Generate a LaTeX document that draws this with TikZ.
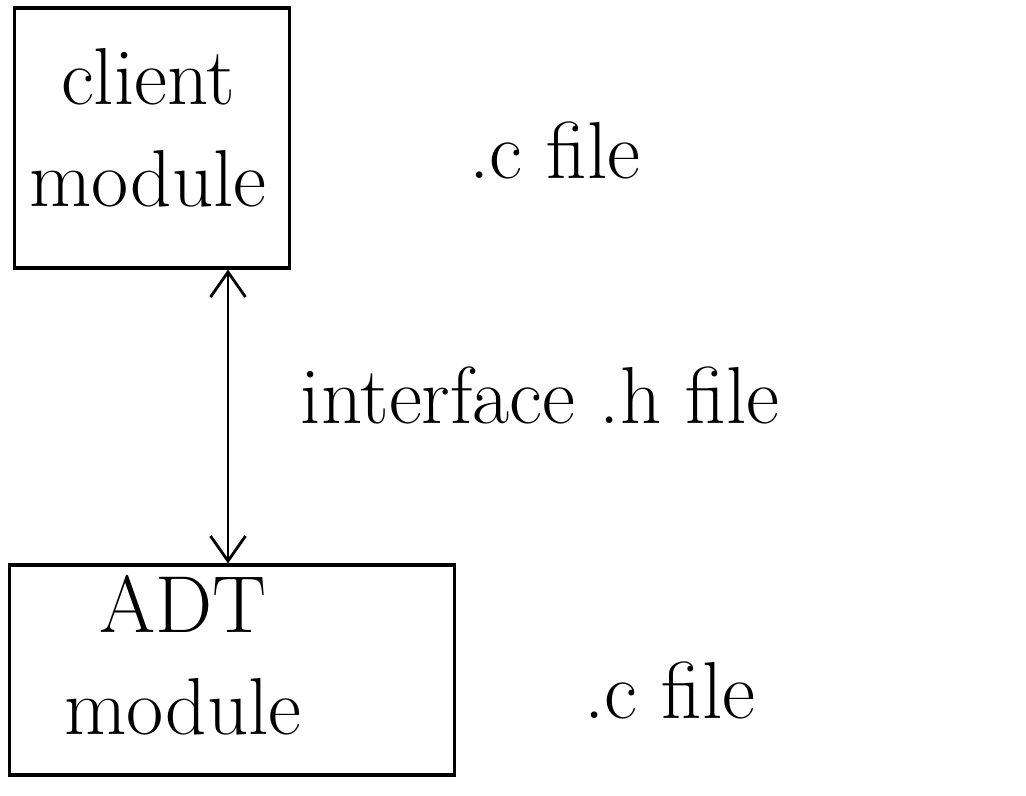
\documentclass[tikz,border=0pt]{standalone}
\usetikzlibrary{arrows.meta}
\begin{document}
\begin{tikzpicture}[x=0.02cm, y=-0.02cm,
    box/.style={rectangle, draw=black, line width=1.8pt, align=center},
    lbl/.style={font=\fontsize{46}{58}\selectfont, align=center},
    arrow/.style={{Straight Barb[length=5mm,width=7mm]}-{Straight Barb[length=5mm,width=7mm]}, line width=1.6pt}
]
\useasboundingbox (0,0) rectangle (1026,795);

% Modules
\node[box, minimum width=5.5cm, minimum height=5.2cm] (client) at (152,138) {};
\node[lbl] (clienttxt) at (148,128) {client\\module};
\node[box, minimum width=8.9cm, minimum height=4.2cm] (adt) at (232,670) {};
\node[lbl] (adttxt) at (183,655) {ADT\\module};

% File labels
\node[lbl] (cfile) at (555,150) {.c file};
\node[lbl] (hfile) at (540,395) {interface .h file};
\node[lbl] (cfileb) at (670,690) {.c file};

% Arrow
\coordinate (ax) at (228,0);
\draw[arrow] (client.south -| ax) -- (adt.north -| ax);

\end{tikzpicture}
\end{document}
